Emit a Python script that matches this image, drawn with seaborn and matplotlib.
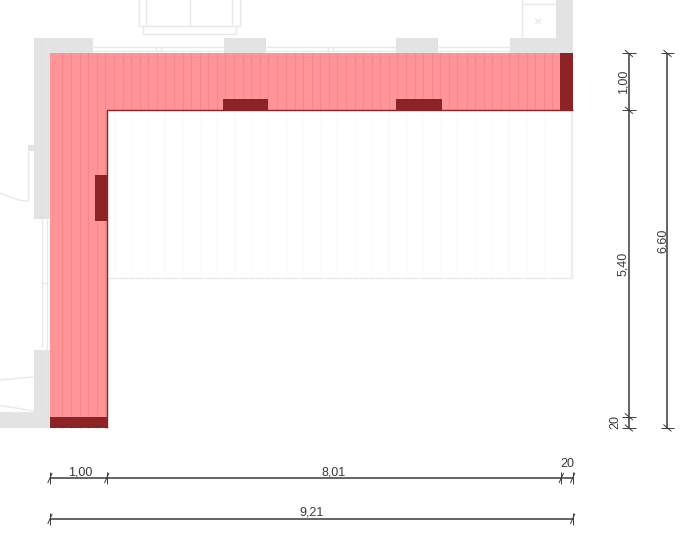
import numpy as np
import pandas as pd
import matplotlib
matplotlib.use("Agg")
from matplotlib import pyplot as plt
import seaborn as sns

# dimensions in metres, as written on the drawing
x_dims = [1.00, 8.01, 0.20]
x_labels = ["1,00", "8,01", "20"]
y_dims = [1.00, 5.40, 0.20]
y_labels = ["1,00", "5,40", "20"]
x_total = 9.21
y_total = 6.60
band = 1.00

# dark blocks (x0, x1, y0, y1)
dark_blocks = [(3.04, 3.85, 5.60, 5.80), (6.09, 6.90, 5.60, 5.80), (0.79, 1.00, 3.65, 4.46),
               (0.00, 1.00, 0.00, 0.20), (8.98, 9.21, 5.60, 6.60)]

# board joints across the band
seams = [0.22, 0.37, 0.52, 0.67, 0.82, 0.97, 1.12, 1.28, 1.43, 1.58, 1.73, 1.88, 2.03, 2.19, 2.34,
         2.49, 2.64, 2.79, 2.94, 3.09, 3.25, 3.40, 3.55, 3.70, 3.85, 4.00, 4.15, 4.31, 4.46, 4.61,
         4.76, 4.91, 5.06, 5.22, 5.37, 5.52, 5.67, 5.82, 5.97, 6.12, 6.28, 6.43, 6.58, 6.73, 6.88,
         7.03, 7.18, 7.34, 7.49, 7.64, 7.79, 7.94, 8.09, 8.25, 8.40, 8.55, 8.70, 8.85]
pale_bottom = 2.64

# grey walls (x0, x1, y0, y1)
walls = [(-0.29, 0.00, 3.68, 6.87), (-0.29, 0.75, 6.60, 6.87), (3.07, 3.81, 6.60, 6.87),
         (6.10, 6.84, 6.60, 6.87), (8.11, 9.21, 6.60, 6.87), (8.92, 9.21, 6.60, 7.60),
         (-0.29, 0.00, 0.00, 1.38), (-0.95, 0.00, 0.00, 0.28), (-0.38, -0.29, 4.88, 4.98)]

# thin background lines: windows, door, furniture
context_lines = [
    [(0.75, 6.71), (3.07, 6.71)], [(0.75, 6.65), (3.07, 6.65)],
    [(3.81, 6.71), (6.10, 6.71)], [(3.81, 6.65), (6.10, 6.65)],
    [(6.84, 6.71), (8.11, 6.71)], [(6.84, 6.65), (8.11, 6.65)],
    [(1.87, 6.71), (1.87, 6.65)], [(1.95, 6.71), (1.95, 6.65)],
    [(4.90, 6.71), (4.90, 6.65)], [(4.98, 6.71), (4.98, 6.65)],
    [(-0.14, 3.68), (-0.14, 1.42)], [(-0.06, 3.68), (-0.06, 1.38)],
    [(-0.14, 2.55), (-0.06, 2.55)],
    [(-0.38, 4.88), (-0.38, 4.00)],
    [(-0.95, 4.17), (-0.71, 4.07), (-0.53, 4.01), (-0.38, 4.00)],
    [(-0.95, 0.84), (-0.29, 0.90)], [(-0.95, 0.41), (-0.29, 0.30)],
    [(1.56, 7.60), (1.56, 7.08), (3.35, 7.08), (3.35, 7.60)],
    [(1.70, 7.60), (1.70, 7.08)], [(3.21, 7.60), (3.21, 7.08)], [(2.46, 7.60), (2.46, 7.08)],
    [(1.63, 7.08), (1.63, 6.94), (3.28, 6.94), (3.28, 7.08)],
    [(8.32, 7.60), (8.32, 6.87)], [(8.32, 7.47), (8.92, 7.47)],
    [(8.55, 7.12), (8.65, 7.21)], [(8.55, 7.21), (8.65, 7.12)],
]

# where the dimension strings sit
dim_row_y = -0.88
total_row_y = -1.60
dim_col_x = 10.20
total_col_x = 10.88

PINK = "#FF9599"
SEAM = "#F3898E"
DARK = "#8B2327"
WALL = "#E3E3E3"
THIN = "#E8E8E8"
INK = "#3A3A3A"


def lines_frame(lines):
    rows = []
    for i, line in enumerate(lines):
        for px, py in line:
            rows.append({"x": px, "y": py, "line": i})
    return pd.DataFrame(rows)


def draw_lines(ax, lines, color, lw, z):
    sns.lineplot(data=lines_frame(lines), x="x", y="y", units="line", estimator=None, sort=False,
                 color=color, linewidth=lw, legend=False, ax=ax, solid_capstyle="butt", zorder=z)


def fill_rect(ax, rect, color, z):
    ax.fill_between([rect[0], rect[1]], rect[2], rect[3], color=color, linewidth=0, zorder=z)


sns.set_theme(style="white")
plt.rcParams["font.family"] = ["Liberation Sans", "DejaVu Sans"]

fig = plt.figure(figsize=(6.83, 5.35), dpi=100)
ax = fig.add_axes([0, 0, 1, 1])

for w in walls:
    fill_rect(ax, w, WALL, 1)
draw_lines(ax, [[(-0.165, 3.68), (-0.165, 6.87)], [(-0.165, 0.28), (-0.165, 1.38)]], "#DEDEDE", 0.5, 1.5)
draw_lines(ax, context_lines, THIN, 1.0, 2)

# pale boards and their outline on the room side
draw_lines(ax, [[(s, pale_bottom), (s, y_total - band)] for s in seams[6::2]], "#FAFAFA", 1.0, 2)
draw_lines(ax, [[(band, pale_bottom), (x_total, pale_bottom)]], "#E9E9E9", 1.0, 2)
draw_lines(ax, [[(x_total - 0.01, pale_bottom), (x_total - 0.01, y_total - band)]], "#EDEDED", 1.5, 2)

# L-shaped band
ax.fill([0, x_total, x_total, band, band, 0],
        [y_total, y_total, y_total - band, y_total - band, 0, 0], color=PINK, linewidth=0, zorder=3)
draw_lines(ax, [[(s, 0 if s < band else y_total - band), (s, y_total)] for s in seams], SEAM, 0.8, 4)
for b in dark_blocks:
    fill_rect(ax, b, DARK, 5)
draw_lines(ax, [[(band, 0), (band, y_total - band), (x_total, y_total - band)]], DARK, 1.0, 6)

# dimension rows and columns
x_nodes = np.concatenate([[0], np.cumsum(x_dims)])
y_nodes = y_total - np.concatenate([[0], np.cumsum(y_dims)])
draw_lines(ax, [[(0, dim_row_y), (x_total, dim_row_y)], [(0, total_row_y), (x_total, total_row_y)],
                [(dim_col_x, 0), (dim_col_x, y_total)], [(total_col_x, 0), (total_col_x, y_total)]],
           "#4A4A4A", 1.2, 7)

ticks = []
for nx, ny in [(n, dim_row_y) for n in x_nodes] + [(0, total_row_y), (x_total, total_row_y)]:
    ticks.append([(nx, ny - 0.11), (nx, ny + 0.11)])
    ticks.append([(nx - 0.04, ny - 0.09), (nx + 0.04, ny + 0.09)])
for nx, ny in [(dim_col_x, n) for n in y_nodes] + [(total_col_x, 0), (total_col_x, y_total)]:
    ticks.append([(nx - 0.12, ny), (nx + 0.12, ny)])
    ticks.append([(nx - 0.07, ny + 0.06), (nx + 0.07, ny - 0.06)])
draw_lines(ax, ticks, INK, 0.7, 7)

# dimension text
text_kw = dict(color=INK, fontsize=9, ha="center", va="baseline")
for i, lab in enumerate(x_labels):
    mid = (x_nodes[i] + x_nodes[i + 1]) / 2
    lift = 0.05 if i < 2 else 0.19
    ax.text(mid + (0.03 if i == 0 else 0), dim_row_y + lift, lab, **text_kw)
ax.text(x_total / 2, total_row_y + 0.06, "9,21", **text_kw)
for i, lab in enumerate(y_labels):
    mid = (y_nodes[i] + y_nodes[i + 1]) / 2
    off = 0.0 if i < 2 else 0.14
    ax.text(dim_col_x - off + 0.01, mid, lab, rotation=90, color=INK, fontsize=9,
            ha="right", va="center")
ax.text(total_col_x + 0.03, y_total / 2, "6,60", rotation=90, color=INK, fontsize=9,
        ha="right", va="center")

ax.set_xlim(-50 / 56.75, 633 / 56.75)
ax.set_ylim(-107 / 56.75, 428 / 56.75)
ax.set_axis_off()

fig.savefig("out.png", dpi=100)
